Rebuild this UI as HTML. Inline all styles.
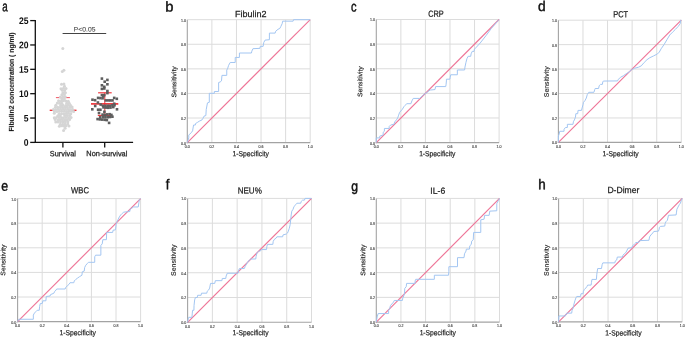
<!DOCTYPE html>
<html><head><meta charset="utf-8"><style>
html,body{margin:0;padding:0;background:#fff;}
svg{display:block;font-family:"Liberation Sans", sans-serif;}
</style></head><body>
<svg width="685" height="337" viewBox="0 0 685 337">
<rect width="685" height="337" fill="#fff"/>
<line x1="211.88" y1="19.70" x2="211.88" y2="142.60" stroke="#dcdcdc" stroke-width="1"/>
<line x1="187.30" y1="118.02" x2="310.20" y2="118.02" stroke="#dcdcdc" stroke-width="1"/>
<line x1="236.46" y1="19.70" x2="236.46" y2="142.60" stroke="#dcdcdc" stroke-width="1"/>
<line x1="187.30" y1="93.44" x2="310.20" y2="93.44" stroke="#dcdcdc" stroke-width="1"/>
<line x1="261.04" y1="19.70" x2="261.04" y2="142.60" stroke="#dcdcdc" stroke-width="1"/>
<line x1="187.30" y1="68.86" x2="310.20" y2="68.86" stroke="#dcdcdc" stroke-width="1"/>
<line x1="285.62" y1="19.70" x2="285.62" y2="142.60" stroke="#dcdcdc" stroke-width="1"/>
<line x1="187.30" y1="44.28" x2="310.20" y2="44.28" stroke="#dcdcdc" stroke-width="1"/>
<line x1="310.20" y1="19.70" x2="310.20" y2="142.60" stroke="#dcdcdc" stroke-width="1"/>
<line x1="187.30" y1="19.70" x2="310.20" y2="19.70" stroke="#dcdcdc" stroke-width="1"/>
<line x1="187.30" y1="19.70" x2="187.30" y2="143.20" stroke="#a3a3a3" stroke-width="1.1"/>
<line x1="186.70" y1="142.60" x2="310.20" y2="142.60" stroke="#a3a3a3" stroke-width="1.1"/>
<line x1="187.30" y1="142.60" x2="310.20" y2="19.70" stroke="#ee7597" stroke-width="1.15"/>
<polyline points="187.30,142.60 188.77,137.93 188.77,135.10 189.76,134.12 191.60,132.28 192.58,130.80 193.57,125.03 195.41,125.03 195.41,123.67 197.38,122.44 199.22,121.22 202.05,119.86 203.03,118.27 204.01,116.18 205.86,115.56 206.23,109.54 207.46,102.90 209.30,102.29 209.30,93.32 214.34,93.32 214.34,91.47 218.64,91.47 218.64,82.50 220.11,82.01 221.47,80.90 221.96,75.37 226.75,75.37 226.75,70.09 227.73,68.25 228.59,65.42 230.19,62.47 235.23,62.47 235.23,57.43 239.41,57.43 239.41,53.01 251.45,53.01 251.82,51.16 252.93,48.70 259.93,48.34 260.30,46.37 263.13,46.37 263.74,42.56 265.10,40.10 269.40,39.73 269.40,33.10 275.17,33.10 275.67,31.25 278.00,29.29 279.84,28.43 280.83,26.46 282.18,23.63 282.67,21.17 293.12,21.17 293.49,19.70 310.20,19.70" fill="none" stroke="#a3c6f2" stroke-width="1.0" stroke-linejoin="miter"/>
<line x1="400.86" y1="19.50" x2="400.86" y2="142.60" stroke="#dcdcdc" stroke-width="1"/>
<line x1="376.30" y1="117.98" x2="499.10" y2="117.98" stroke="#dcdcdc" stroke-width="1"/>
<line x1="425.42" y1="19.50" x2="425.42" y2="142.60" stroke="#dcdcdc" stroke-width="1"/>
<line x1="376.30" y1="93.36" x2="499.10" y2="93.36" stroke="#dcdcdc" stroke-width="1"/>
<line x1="449.98" y1="19.50" x2="449.98" y2="142.60" stroke="#dcdcdc" stroke-width="1"/>
<line x1="376.30" y1="68.74" x2="499.10" y2="68.74" stroke="#dcdcdc" stroke-width="1"/>
<line x1="474.54" y1="19.50" x2="474.54" y2="142.60" stroke="#dcdcdc" stroke-width="1"/>
<line x1="376.30" y1="44.12" x2="499.10" y2="44.12" stroke="#dcdcdc" stroke-width="1"/>
<line x1="499.10" y1="19.50" x2="499.10" y2="142.60" stroke="#dcdcdc" stroke-width="1"/>
<line x1="376.30" y1="19.50" x2="499.10" y2="19.50" stroke="#dcdcdc" stroke-width="1"/>
<line x1="376.30" y1="19.50" x2="376.30" y2="143.20" stroke="#a3a3a3" stroke-width="1.1"/>
<line x1="375.70" y1="142.60" x2="499.10" y2="142.60" stroke="#a3a3a3" stroke-width="1.1"/>
<line x1="376.30" y1="142.60" x2="499.10" y2="19.50" stroke="#ee7597" stroke-width="1.15"/>
<polyline points="376.30,142.60 376.30,137.92 379.74,137.92 379.74,136.08 383.18,135.09 383.18,132.26 384.40,131.27 384.40,128.44 389.19,128.44 389.19,126.47 390.67,125.00 393.98,124.26 394.84,121.80 396.44,119.83 397.67,117.98 398.65,115.15 399.63,112.32 400.86,110.96 402.46,109.12 403.93,106.65 405.28,105.30 406.63,103.70 410.93,103.70 411.91,100.87 413.26,98.41 419.53,98.41 421.00,97.05 422.35,95.82 424.19,94.22 427.14,92.38 428.98,90.77 430.45,90.04 435.00,89.54 435.61,86.59 445.68,86.59 446.05,84.74 446.42,80.93 446.42,79.20 449.86,79.20 450.23,77.23 450.72,74.77 457.35,74.77 457.35,69.97 464.59,69.97 464.96,67.14 465.94,62.46 466.93,58.65 468.15,56.31 470.73,56.31 471.10,53.84 472.21,51.38 474.05,51.38 474.42,49.17 476.38,47.20 480.19,43.01 485.84,35.87 491.49,28.24 497.26,21.59 499.10,19.50" fill="none" stroke="#a3c6f2" stroke-width="1.0" stroke-linejoin="miter"/>
<line x1="582.98" y1="20.20" x2="582.98" y2="142.40" stroke="#dcdcdc" stroke-width="1"/>
<line x1="558.40" y1="117.96" x2="681.30" y2="117.96" stroke="#dcdcdc" stroke-width="1"/>
<line x1="607.56" y1="20.20" x2="607.56" y2="142.40" stroke="#dcdcdc" stroke-width="1"/>
<line x1="558.40" y1="93.52" x2="681.30" y2="93.52" stroke="#dcdcdc" stroke-width="1"/>
<line x1="632.14" y1="20.20" x2="632.14" y2="142.40" stroke="#dcdcdc" stroke-width="1"/>
<line x1="558.40" y1="69.08" x2="681.30" y2="69.08" stroke="#dcdcdc" stroke-width="1"/>
<line x1="656.72" y1="20.20" x2="656.72" y2="142.40" stroke="#dcdcdc" stroke-width="1"/>
<line x1="558.40" y1="44.64" x2="681.30" y2="44.64" stroke="#dcdcdc" stroke-width="1"/>
<line x1="681.30" y1="20.20" x2="681.30" y2="142.40" stroke="#dcdcdc" stroke-width="1"/>
<line x1="558.40" y1="20.20" x2="681.30" y2="20.20" stroke="#dcdcdc" stroke-width="1"/>
<line x1="558.40" y1="20.20" x2="558.40" y2="143.00" stroke="#a3a3a3" stroke-width="1.1"/>
<line x1="557.80" y1="142.40" x2="681.30" y2="142.40" stroke="#a3a3a3" stroke-width="1.1"/>
<line x1="558.40" y1="142.40" x2="681.30" y2="20.20" stroke="#ee7597" stroke-width="1.15"/>
<polyline points="558.40,142.40 558.40,136.05 559.14,134.09 559.75,131.28 564.05,131.28 564.05,129.32 565.41,127.49 567.37,127.49 567.37,124.31 573.03,124.31 573.39,121.75 574.38,119.92 575.48,117.10 575.85,113.68 577.70,113.68 578.06,110.38 581.51,110.38 582.12,107.94 582.98,104.76 583.47,102.32 584.95,100.61 586.30,98.04 587.28,94.62 588.76,92.30 593.92,92.30 594.78,89.49 595.15,88.51 598.59,88.51 599.20,85.70 600.55,84.36 602.40,84.36 602.77,81.91 603.38,81.06 617.51,80.93 618.50,79.22 620.46,77.27 623.29,75.80 626.12,73.85 628.94,72.01 631.77,69.69 634.60,68.22 638.41,67.25 641.23,65.90 644.18,62.48 647.01,59.67 649.84,57.72 653.65,55.88 657.46,53.93 659.30,52.09 661.14,48.79 664.09,44.52 666.92,39.75 669.75,34.99 672.57,32.18 675.40,29.36 678.23,26.43 680.19,23.62 680.69,20.20 681.30,20.20" fill="none" stroke="#a3c6f2" stroke-width="1.0" stroke-linejoin="miter"/>
<line x1="42.20" y1="198.60" x2="42.20" y2="321.60" stroke="#dcdcdc" stroke-width="1"/>
<line x1="17.60" y1="297.00" x2="140.60" y2="297.00" stroke="#dcdcdc" stroke-width="1"/>
<line x1="66.80" y1="198.60" x2="66.80" y2="321.60" stroke="#dcdcdc" stroke-width="1"/>
<line x1="17.60" y1="272.40" x2="140.60" y2="272.40" stroke="#dcdcdc" stroke-width="1"/>
<line x1="91.40" y1="198.60" x2="91.40" y2="321.60" stroke="#dcdcdc" stroke-width="1"/>
<line x1="17.60" y1="247.80" x2="140.60" y2="247.80" stroke="#dcdcdc" stroke-width="1"/>
<line x1="116.00" y1="198.60" x2="116.00" y2="321.60" stroke="#dcdcdc" stroke-width="1"/>
<line x1="17.60" y1="223.20" x2="140.60" y2="223.20" stroke="#dcdcdc" stroke-width="1"/>
<line x1="140.60" y1="198.60" x2="140.60" y2="321.60" stroke="#dcdcdc" stroke-width="1"/>
<line x1="17.60" y1="198.60" x2="140.60" y2="198.60" stroke="#dcdcdc" stroke-width="1"/>
<line x1="17.60" y1="198.60" x2="17.60" y2="322.20" stroke="#a3a3a3" stroke-width="1.1"/>
<line x1="17.00" y1="321.60" x2="140.60" y2="321.60" stroke="#a3a3a3" stroke-width="1.1"/>
<line x1="17.60" y1="321.60" x2="140.60" y2="198.60" stroke="#ee7597" stroke-width="1.15"/>
<polyline points="17.60,321.60 18.71,319.26 33.34,319.26 33.34,315.08 34.45,313.11 35.80,311.64 37.16,310.28 39.25,310.28 39.62,306.47 40.23,303.64 42.45,303.27 42.81,300.81 45.89,300.81 46.26,296.51 50.07,296.02 50.44,294.66 53.88,293.19 54.75,291.34 56.10,289.99 56.71,289.00 65.20,289.00 65.57,287.53 67.17,286.05 69.01,284.33 70.00,282.73 73.81,282.73 74.30,280.89 75.66,279.53 77.62,278.06 79.47,276.71 81.93,275.23 82.30,271.79 84.27,271.05 84.64,267.60 85.74,265.27 87.09,263.79 88.45,262.31 94.72,262.31 94.72,259.98 94.72,256.78 95.58,255.18 100.87,255.18 100.87,245.34 102.22,243.86 102.84,239.68 106.41,239.68 106.65,232.43 112.68,232.43 113.05,230.21 115.51,229.84 116.12,224.43 116.49,222.58 117.97,219.76 119.32,216.93 120.67,214.96 122.15,213.48 123.75,212.13 129.78,211.51 130.15,209.30 131.62,208.32 133.59,206.96 138.26,206.96 138.88,202.66 139.25,199.83 140.60,198.60" fill="none" stroke="#a3c6f2" stroke-width="1.0" stroke-linejoin="miter"/>
<line x1="212.38" y1="198.40" x2="212.38" y2="322.30" stroke="#dcdcdc" stroke-width="1"/>
<line x1="187.60" y1="297.52" x2="311.50" y2="297.52" stroke="#dcdcdc" stroke-width="1"/>
<line x1="237.16" y1="198.40" x2="237.16" y2="322.30" stroke="#dcdcdc" stroke-width="1"/>
<line x1="187.60" y1="272.74" x2="311.50" y2="272.74" stroke="#dcdcdc" stroke-width="1"/>
<line x1="261.94" y1="198.40" x2="261.94" y2="322.30" stroke="#dcdcdc" stroke-width="1"/>
<line x1="187.60" y1="247.96" x2="311.50" y2="247.96" stroke="#dcdcdc" stroke-width="1"/>
<line x1="286.72" y1="198.40" x2="286.72" y2="322.30" stroke="#dcdcdc" stroke-width="1"/>
<line x1="187.60" y1="223.18" x2="311.50" y2="223.18" stroke="#dcdcdc" stroke-width="1"/>
<line x1="311.50" y1="198.40" x2="311.50" y2="322.30" stroke="#dcdcdc" stroke-width="1"/>
<line x1="187.60" y1="198.40" x2="311.50" y2="198.40" stroke="#dcdcdc" stroke-width="1"/>
<line x1="187.60" y1="198.40" x2="187.60" y2="322.90" stroke="#a3a3a3" stroke-width="1.1"/>
<line x1="187.00" y1="322.30" x2="311.50" y2="322.30" stroke="#a3a3a3" stroke-width="1.1"/>
<line x1="187.60" y1="322.30" x2="311.50" y2="198.40" stroke="#ee7597" stroke-width="1.15"/>
<polyline points="187.60,322.30 188.22,318.83 188.72,317.34 191.94,317.34 192.31,313.13 192.56,310.28 193.92,310.28 194.04,305.57 194.66,299.87 195.41,297.52 197.26,297.52 197.64,295.29 201.11,295.29 201.48,293.18 206.80,293.18 207.18,291.32 208.66,289.96 209.65,288.10 210.52,283.40 214.73,283.40 215.35,280.67 221.92,280.67 222.29,278.44 225.76,278.44 226.13,276.09 227.25,273.24 238.03,273.24 238.65,270.39 239.39,268.53 244.35,268.53 245.09,266.67 246.58,263.82 248.56,260.97 249.43,259.98 250.79,258.99 255.75,258.99 256.12,256.39 256.98,252.92 258.35,251.43 260.82,250.69 261.44,249.57 266.52,249.57 266.90,246.35 267.52,244.37 272.84,244.37 273.21,241.52 274.08,239.66 276.06,238.17 276.93,236.81 282.63,236.81 283.00,234.95 286.47,233.96 287.46,233.09 288.33,231.11 289.32,228.26 290.19,224.42 290.81,218.84 291.18,215.00 291.80,211.16 293.04,209.30 294.03,206.45 295.89,204.60 296.88,203.23 300.72,203.23 301.22,201.37 302.58,200.13 304.44,200.13 305.06,198.40 311.50,198.40" fill="none" stroke="#a3c6f2" stroke-width="1.0" stroke-linejoin="miter"/>
<line x1="400.94" y1="198.40" x2="400.94" y2="322.10" stroke="#dcdcdc" stroke-width="1"/>
<line x1="376.30" y1="297.36" x2="499.50" y2="297.36" stroke="#dcdcdc" stroke-width="1"/>
<line x1="425.58" y1="198.40" x2="425.58" y2="322.10" stroke="#dcdcdc" stroke-width="1"/>
<line x1="376.30" y1="272.62" x2="499.50" y2="272.62" stroke="#dcdcdc" stroke-width="1"/>
<line x1="450.22" y1="198.40" x2="450.22" y2="322.10" stroke="#dcdcdc" stroke-width="1"/>
<line x1="376.30" y1="247.88" x2="499.50" y2="247.88" stroke="#dcdcdc" stroke-width="1"/>
<line x1="474.86" y1="198.40" x2="474.86" y2="322.10" stroke="#dcdcdc" stroke-width="1"/>
<line x1="376.30" y1="223.14" x2="499.50" y2="223.14" stroke="#dcdcdc" stroke-width="1"/>
<line x1="499.50" y1="198.40" x2="499.50" y2="322.10" stroke="#dcdcdc" stroke-width="1"/>
<line x1="376.30" y1="198.40" x2="499.50" y2="198.40" stroke="#dcdcdc" stroke-width="1"/>
<line x1="376.30" y1="198.40" x2="376.30" y2="322.70" stroke="#a3a3a3" stroke-width="1.1"/>
<line x1="375.70" y1="322.10" x2="499.50" y2="322.10" stroke="#a3a3a3" stroke-width="1.1"/>
<line x1="376.30" y1="322.10" x2="499.50" y2="198.40" stroke="#ee7597" stroke-width="1.15"/>
<polyline points="376.30,322.10 377.16,316.90 378.15,313.56 388.62,313.56 388.62,310.22 389.73,308.37 390.47,305.52 393.55,302.06 394.29,300.45 402.42,300.45 402.79,297.98 403.77,296.00 404.51,293.15 404.76,288.45 406.24,286.60 406.61,283.38 415.11,283.38 415.11,280.91 415.72,279.30 434.33,279.30 434.33,275.22 448.50,275.22 448.86,271.38 448.86,266.68 457.49,266.68 457.49,260.00 457.49,257.65 464.02,257.65 464.51,253.82 465.99,251.10 466.36,249.12 469.44,249.12 469.81,245.78 471.29,244.42 471.66,241.20 473.26,239.72 473.63,232.42 480.77,232.42 480.77,219.80 484.10,219.18 484.59,215.35 489.15,215.35 489.77,211.14 496.79,210.77 496.79,203.60 498.27,200.75 499.50,198.40" fill="none" stroke="#a3c6f2" stroke-width="1.0" stroke-linejoin="miter"/>
<line x1="583.32" y1="198.40" x2="583.32" y2="321.90" stroke="#dcdcdc" stroke-width="1"/>
<line x1="558.60" y1="297.20" x2="682.20" y2="297.20" stroke="#dcdcdc" stroke-width="1"/>
<line x1="608.04" y1="198.40" x2="608.04" y2="321.90" stroke="#dcdcdc" stroke-width="1"/>
<line x1="558.60" y1="272.50" x2="682.20" y2="272.50" stroke="#dcdcdc" stroke-width="1"/>
<line x1="632.76" y1="198.40" x2="632.76" y2="321.90" stroke="#dcdcdc" stroke-width="1"/>
<line x1="558.60" y1="247.80" x2="682.20" y2="247.80" stroke="#dcdcdc" stroke-width="1"/>
<line x1="657.48" y1="198.40" x2="657.48" y2="321.90" stroke="#dcdcdc" stroke-width="1"/>
<line x1="558.60" y1="223.10" x2="682.20" y2="223.10" stroke="#dcdcdc" stroke-width="1"/>
<line x1="682.20" y1="198.40" x2="682.20" y2="321.90" stroke="#dcdcdc" stroke-width="1"/>
<line x1="558.60" y1="198.40" x2="682.20" y2="198.40" stroke="#dcdcdc" stroke-width="1"/>
<line x1="558.60" y1="198.40" x2="558.60" y2="322.50" stroke="#a3a3a3" stroke-width="1.1"/>
<line x1="558.00" y1="321.90" x2="682.20" y2="321.90" stroke="#a3a3a3" stroke-width="1.1"/>
<line x1="558.60" y1="321.90" x2="682.20" y2="198.40" stroke="#ee7597" stroke-width="1.15"/>
<polyline points="558.60,321.90 558.85,315.97 565.40,315.97 566.02,314.12 566.76,313.13 571.70,313.13 572.07,310.29 573.06,308.44 573.56,305.60 574.92,300.78 575.90,297.94 576.77,296.46 580.60,296.46 580.97,293.74 583.07,293.74 583.44,291.27 584.43,289.42 585.79,288.06 586.90,286.58 587.65,285.10 591.11,285.10 591.48,282.38 591.97,279.42 596.42,279.42 596.79,274.23 597.66,268.55 601.49,268.55 602.11,264.72 602.85,262.87 614.84,262.87 615.33,260.89 616.69,260.03 617.31,257.06 622.38,257.06 623.00,255.21 624.23,253.85 625.59,252.86 626.70,251.01 628.06,248.17 631.89,247.68 632.51,245.70 633.75,244.96 635.11,243.48 635.73,242.49 638.57,242.49 639.43,240.64 648.95,240.27 649.57,236.81 650.93,234.96 652.78,232.98 653.77,231.50 658.47,231.13 659.09,229.28 659.46,227.30 660.32,226.43 664.77,226.06 665.14,223.59 666.01,221.62 667.37,220.26 668.48,215.32 676.14,214.95 676.51,212.11 676.89,209.27 678.00,207.05 679.36,204.57 680.35,203.22 681.21,200.75 682.20,198.40" fill="none" stroke="#a3c6f2" stroke-width="1.0" stroke-linejoin="miter"/>
<line x1="35.3" y1="20.0" x2="35.3" y2="143.0" stroke="#111" stroke-width="1.3"/>
<line x1="34.699999999999996" y1="142.4" x2="133.1" y2="142.4" stroke="#111" stroke-width="1.3"/>
<line x1="30.2" y1="142.40" x2="35.3" y2="142.40" stroke="#111" stroke-width="1.3"/>
<line x1="30.2" y1="118.04" x2="35.3" y2="118.04" stroke="#111" stroke-width="1.3"/>
<line x1="30.2" y1="93.68" x2="35.3" y2="93.68" stroke="#111" stroke-width="1.3"/>
<line x1="30.2" y1="69.32" x2="35.3" y2="69.32" stroke="#111" stroke-width="1.3"/>
<line x1="30.2" y1="44.96" x2="35.3" y2="44.96" stroke="#111" stroke-width="1.3"/>
<line x1="30.2" y1="20.60" x2="35.3" y2="20.60" stroke="#111" stroke-width="1.3"/>
<line x1="62.9" y1="142.4" x2="62.9" y2="147.6" stroke="#111" stroke-width="1.3"/>
<line x1="104.7" y1="142.4" x2="104.7" y2="147.6" stroke="#111" stroke-width="1.3"/>
<line x1="62.6" y1="33.5" x2="106.2" y2="33.5" stroke="#444" stroke-width="1"/>
<line x1="49.7" y1="110.3" x2="54" y2="110.3" stroke="#f02a30" stroke-width="1.3"/>
<line x1="72.5" y1="110.3" x2="76.5" y2="110.3" stroke="#f02a30" stroke-width="1.3"/>
<line x1="55.9" y1="97.6" x2="61.5" y2="97.6" stroke="#f06470" stroke-width="1.1"/>
<line x1="64.5" y1="97.6" x2="69.9" y2="97.6" stroke="#f06470" stroke-width="1.1"/>
<circle cx="62.80" cy="48.50" r="1.5" fill="#d5d5d5"/>
<circle cx="62.30" cy="71.60" r="1.5" fill="#d5d5d5"/>
<circle cx="63.90" cy="70.30" r="1.5" fill="#d5d5d5"/>
<circle cx="61.52" cy="84.23" r="1.5" fill="#d5d5d5"/>
<circle cx="63.96" cy="84.08" r="1.5" fill="#d5d5d5"/>
<circle cx="64.48" cy="86.26" r="1.5" fill="#d5d5d5"/>
<circle cx="60.99" cy="88.64" r="1.5" fill="#d5d5d5"/>
<circle cx="63.47" cy="88.30" r="1.5" fill="#d5d5d5"/>
<circle cx="65.98" cy="88.49" r="1.5" fill="#d5d5d5"/>
<circle cx="62.29" cy="90.35" r="1.5" fill="#d5d5d5"/>
<circle cx="64.65" cy="90.46" r="1.5" fill="#d5d5d5"/>
<circle cx="62.89" cy="92.76" r="1.5" fill="#d5d5d5"/>
<circle cx="65.41" cy="92.86" r="1.5" fill="#d5d5d5"/>
<circle cx="61.85" cy="94.71" r="1.5" fill="#d5d5d5"/>
<circle cx="64.29" cy="94.54" r="1.5" fill="#d5d5d5"/>
<circle cx="60.36" cy="97.06" r="1.5" fill="#d5d5d5"/>
<circle cx="62.96" cy="96.73" r="1.5" fill="#d5d5d5"/>
<circle cx="65.24" cy="96.75" r="1.5" fill="#d5d5d5"/>
<circle cx="61.74" cy="99.12" r="1.5" fill="#d5d5d5"/>
<circle cx="64.31" cy="99.09" r="1.5" fill="#d5d5d5"/>
<circle cx="58.59" cy="100.84" r="1.5" fill="#d5d5d5"/>
<circle cx="61.13" cy="101.21" r="1.5" fill="#d5d5d5"/>
<circle cx="63.41" cy="100.86" r="1.5" fill="#d5d5d5"/>
<circle cx="65.74" cy="100.90" r="1.5" fill="#d5d5d5"/>
<circle cx="68.28" cy="101.25" r="1.5" fill="#d5d5d5"/>
<circle cx="57.35" cy="103.05" r="1.5" fill="#d5d5d5"/>
<circle cx="59.50" cy="103.23" r="1.5" fill="#d5d5d5"/>
<circle cx="61.77" cy="103.15" r="1.5" fill="#d5d5d5"/>
<circle cx="66.72" cy="103.28" r="1.5" fill="#d5d5d5"/>
<circle cx="69.20" cy="103.34" r="1.5" fill="#d5d5d5"/>
<circle cx="55.79" cy="105.23" r="1.5" fill="#d5d5d5"/>
<circle cx="60.75" cy="105.24" r="1.5" fill="#d5d5d5"/>
<circle cx="62.97" cy="105.36" r="1.5" fill="#d5d5d5"/>
<circle cx="65.83" cy="105.38" r="1.5" fill="#d5d5d5"/>
<circle cx="67.98" cy="105.19" r="1.5" fill="#d5d5d5"/>
<circle cx="70.45" cy="105.21" r="1.5" fill="#d5d5d5"/>
<circle cx="55.42" cy="107.27" r="1.5" fill="#d5d5d5"/>
<circle cx="57.71" cy="107.14" r="1.5" fill="#d5d5d5"/>
<circle cx="60.24" cy="107.28" r="1.5" fill="#d5d5d5"/>
<circle cx="62.16" cy="107.23" r="1.5" fill="#d5d5d5"/>
<circle cx="64.56" cy="107.33" r="1.5" fill="#d5d5d5"/>
<circle cx="66.98" cy="107.33" r="1.5" fill="#d5d5d5"/>
<circle cx="69.69" cy="107.19" r="1.5" fill="#d5d5d5"/>
<circle cx="72.12" cy="107.03" r="1.5" fill="#d5d5d5"/>
<circle cx="53.39" cy="109.59" r="1.5" fill="#d5d5d5"/>
<circle cx="55.68" cy="109.40" r="1.5" fill="#d5d5d5"/>
<circle cx="58.03" cy="109.26" r="1.5" fill="#d5d5d5"/>
<circle cx="60.55" cy="109.26" r="1.5" fill="#d5d5d5"/>
<circle cx="63.04" cy="109.12" r="1.5" fill="#d5d5d5"/>
<circle cx="65.42" cy="109.26" r="1.5" fill="#d5d5d5"/>
<circle cx="67.85" cy="109.23" r="1.5" fill="#d5d5d5"/>
<circle cx="70.07" cy="109.46" r="1.5" fill="#d5d5d5"/>
<circle cx="72.41" cy="109.27" r="1.5" fill="#d5d5d5"/>
<circle cx="54.47" cy="111.62" r="1.5" fill="#d5d5d5"/>
<circle cx="56.82" cy="111.52" r="1.5" fill="#d5d5d5"/>
<circle cx="59.28" cy="111.31" r="1.5" fill="#d5d5d5"/>
<circle cx="61.71" cy="111.29" r="1.5" fill="#d5d5d5"/>
<circle cx="64.27" cy="111.29" r="1.5" fill="#d5d5d5"/>
<circle cx="66.65" cy="111.51" r="1.5" fill="#d5d5d5"/>
<circle cx="68.82" cy="111.26" r="1.5" fill="#d5d5d5"/>
<circle cx="71.45" cy="111.33" r="1.5" fill="#d5d5d5"/>
<circle cx="73.66" cy="111.40" r="1.5" fill="#d5d5d5"/>
<circle cx="54.31" cy="113.36" r="1.5" fill="#d5d5d5"/>
<circle cx="59.09" cy="113.78" r="1.5" fill="#d5d5d5"/>
<circle cx="61.53" cy="113.75" r="1.5" fill="#d5d5d5"/>
<circle cx="63.82" cy="113.70" r="1.5" fill="#d5d5d5"/>
<circle cx="66.11" cy="113.43" r="1.5" fill="#d5d5d5"/>
<circle cx="68.36" cy="113.32" r="1.5" fill="#d5d5d5"/>
<circle cx="70.79" cy="113.69" r="1.5" fill="#d5d5d5"/>
<circle cx="57.80" cy="115.83" r="1.5" fill="#d5d5d5"/>
<circle cx="60.30" cy="115.66" r="1.5" fill="#d5d5d5"/>
<circle cx="64.74" cy="115.52" r="1.5" fill="#d5d5d5"/>
<circle cx="67.31" cy="115.58" r="1.5" fill="#d5d5d5"/>
<circle cx="69.76" cy="115.54" r="1.5" fill="#d5d5d5"/>
<circle cx="54.28" cy="117.70" r="1.5" fill="#d5d5d5"/>
<circle cx="56.43" cy="117.56" r="1.5" fill="#d5d5d5"/>
<circle cx="59.06" cy="117.54" r="1.5" fill="#d5d5d5"/>
<circle cx="61.51" cy="117.86" r="1.5" fill="#d5d5d5"/>
<circle cx="63.45" cy="117.77" r="1.5" fill="#d5d5d5"/>
<circle cx="65.87" cy="117.59" r="1.5" fill="#d5d5d5"/>
<circle cx="68.51" cy="117.67" r="1.5" fill="#d5d5d5"/>
<circle cx="71.04" cy="117.46" r="1.5" fill="#d5d5d5"/>
<circle cx="55.11" cy="119.61" r="1.5" fill="#d5d5d5"/>
<circle cx="57.94" cy="119.97" r="1.5" fill="#d5d5d5"/>
<circle cx="60.10" cy="119.70" r="1.5" fill="#d5d5d5"/>
<circle cx="62.43" cy="119.87" r="1.5" fill="#d5d5d5"/>
<circle cx="64.83" cy="119.64" r="1.5" fill="#d5d5d5"/>
<circle cx="67.11" cy="119.82" r="1.5" fill="#d5d5d5"/>
<circle cx="69.64" cy="119.59" r="1.5" fill="#d5d5d5"/>
<circle cx="55.74" cy="121.94" r="1.5" fill="#d5d5d5"/>
<circle cx="58.14" cy="122.03" r="1.5" fill="#d5d5d5"/>
<circle cx="60.57" cy="121.82" r="1.5" fill="#d5d5d5"/>
<circle cx="63.10" cy="121.84" r="1.5" fill="#d5d5d5"/>
<circle cx="65.38" cy="121.76" r="1.5" fill="#d5d5d5"/>
<circle cx="67.90" cy="121.67" r="1.5" fill="#d5d5d5"/>
<circle cx="60.36" cy="124.16" r="1.5" fill="#d5d5d5"/>
<circle cx="62.74" cy="124.17" r="1.5" fill="#d5d5d5"/>
<circle cx="65.08" cy="123.95" r="1.5" fill="#d5d5d5"/>
<circle cx="67.76" cy="124.05" r="1.5" fill="#d5d5d5"/>
<circle cx="59.35" cy="126.14" r="1.5" fill="#d5d5d5"/>
<circle cx="61.63" cy="125.86" r="1.5" fill="#d5d5d5"/>
<circle cx="63.75" cy="125.88" r="1.5" fill="#d5d5d5"/>
<circle cx="66.17" cy="125.86" r="1.5" fill="#d5d5d5"/>
<circle cx="68.99" cy="125.90" r="1.5" fill="#d5d5d5"/>
<circle cx="65.11" cy="128.32" r="1.5" fill="#d5d5d5"/>
<circle cx="63.57" cy="130.46" r="1.5" fill="#d5d5d5"/>
<line x1="91" y1="103.9" x2="118.3" y2="103.9" stroke="#f02a30" stroke-width="1.6"/>
<line x1="98.1" y1="92.8" x2="111.7" y2="92.8" stroke="#f02a30" stroke-width="1.1"/>
<line x1="97.8" y1="115.4" x2="111.7" y2="115.4" stroke="#f02a30" stroke-width="1.1"/>
<line x1="104.8" y1="92.8" x2="104.8" y2="115.4" stroke="#f02a30" stroke-width="1"/>
<rect x="100.60" y="77.30" width="2.6" height="2.6" fill="#5e5e5e"/>
<rect x="103.40" y="80.40" width="2.6" height="2.6" fill="#5e5e5e"/>
<rect x="106.10" y="78.60" width="2.6" height="2.6" fill="#5e5e5e"/>
<rect x="106.10" y="83.00" width="2.6" height="2.6" fill="#5e5e5e"/>
<rect x="100.60" y="84.00" width="2.6" height="2.6" fill="#5e5e5e"/>
<rect x="103.00" y="85.50" width="2.6" height="2.6" fill="#5e5e5e"/>
<rect x="100.60" y="87.60" width="2.6" height="2.6" fill="#5e5e5e"/>
<rect x="103.00" y="87.20" width="2.6" height="2.6" fill="#5e5e5e"/>
<rect x="106.10" y="89.70" width="2.6" height="2.6" fill="#5e5e5e"/>
<rect x="106.10" y="91.80" width="2.6" height="2.6" fill="#5e5e5e"/>
<rect x="100.60" y="93.80" width="2.6" height="2.6" fill="#5e5e5e"/>
<rect x="103.00" y="93.80" width="2.6" height="2.6" fill="#5e5e5e"/>
<rect x="102.00" y="94.90" width="2.6" height="2.6" fill="#5e5e5e"/>
<rect x="96.80" y="96.60" width="2.6" height="2.6" fill="#5e5e5e"/>
<rect x="99.10" y="96.80" width="2.6" height="2.6" fill="#5e5e5e"/>
<rect x="101.30" y="97.00" width="2.6" height="2.6" fill="#5e5e5e"/>
<rect x="91.20" y="98.40" width="2.6" height="2.6" fill="#5e5e5e"/>
<rect x="93.80" y="98.90" width="2.6" height="2.6" fill="#5e5e5e"/>
<rect x="104.50" y="99.10" width="2.6" height="2.6" fill="#5e5e5e"/>
<rect x="106.90" y="99.10" width="2.6" height="2.6" fill="#5e5e5e"/>
<rect x="109.00" y="99.10" width="2.6" height="2.6" fill="#5e5e5e"/>
<rect x="111.20" y="99.10" width="2.6" height="2.6" fill="#5e5e5e"/>
<rect x="112.90" y="96.60" width="2.6" height="2.6" fill="#5e5e5e"/>
<rect x="115.50" y="97.50" width="2.6" height="2.6" fill="#5e5e5e"/>
<rect x="96.60" y="101.20" width="2.6" height="2.6" fill="#5e5e5e"/>
<rect x="99.40" y="103.30" width="2.6" height="2.6" fill="#5e5e5e"/>
<rect x="101.70" y="104.50" width="2.6" height="2.6" fill="#5e5e5e"/>
<rect x="104.10" y="104.50" width="2.6" height="2.6" fill="#5e5e5e"/>
<rect x="106.40" y="104.50" width="2.6" height="2.6" fill="#5e5e5e"/>
<rect x="108.70" y="104.50" width="2.6" height="2.6" fill="#5e5e5e"/>
<rect x="111.10" y="104.00" width="2.6" height="2.6" fill="#5e5e5e"/>
<rect x="113.20" y="104.00" width="2.6" height="2.6" fill="#5e5e5e"/>
<rect x="112.90" y="102.40" width="2.6" height="2.6" fill="#5e5e5e"/>
<rect x="93.90" y="104.70" width="2.6" height="2.6" fill="#5e5e5e"/>
<rect x="102.20" y="106.10" width="2.6" height="2.6" fill="#5e5e5e"/>
<rect x="104.50" y="106.30" width="2.6" height="2.6" fill="#5e5e5e"/>
<rect x="106.90" y="106.50" width="2.6" height="2.6" fill="#5e5e5e"/>
<rect x="109.20" y="106.30" width="2.6" height="2.6" fill="#5e5e5e"/>
<rect x="112.00" y="105.80" width="2.6" height="2.6" fill="#5e5e5e"/>
<rect x="91.00" y="108.00" width="2.6" height="2.6" fill="#5e5e5e"/>
<rect x="96.80" y="108.40" width="2.6" height="2.6" fill="#5e5e5e"/>
<rect x="99.10" y="108.40" width="2.6" height="2.6" fill="#5e5e5e"/>
<rect x="115.70" y="108.00" width="2.6" height="2.6" fill="#5e5e5e"/>
<rect x="103.10" y="110.50" width="2.6" height="2.6" fill="#5e5e5e"/>
<rect x="97.70" y="111.70" width="2.6" height="2.6" fill="#5e5e5e"/>
<rect x="101.30" y="113.30" width="2.6" height="2.6" fill="#5e5e5e"/>
<rect x="103.60" y="113.60" width="2.6" height="2.6" fill="#5e5e5e"/>
<rect x="105.90" y="113.10" width="2.6" height="2.6" fill="#5e5e5e"/>
<rect x="108.30" y="112.90" width="2.6" height="2.6" fill="#5e5e5e"/>
<rect x="110.10" y="113.60" width="2.6" height="2.6" fill="#5e5e5e"/>
<rect x="111.10" y="115.40" width="2.6" height="2.6" fill="#5e5e5e"/>
<rect x="98.90" y="116.00" width="2.6" height="2.6" fill="#5e5e5e"/>
<rect x="101.70" y="115.90" width="2.6" height="2.6" fill="#5e5e5e"/>
<rect x="104.10" y="115.90" width="2.6" height="2.6" fill="#5e5e5e"/>
<rect x="106.40" y="115.90" width="2.6" height="2.6" fill="#5e5e5e"/>
<rect x="108.70" y="115.70" width="2.6" height="2.6" fill="#5e5e5e"/>
<rect x="96.30" y="117.80" width="2.6" height="2.6" fill="#5e5e5e"/>
<rect x="98.70" y="118.10" width="2.6" height="2.6" fill="#5e5e5e"/>
<rect x="101.00" y="118.30" width="2.6" height="2.6" fill="#5e5e5e"/>
<rect x="103.40" y="118.50" width="2.6" height="2.6" fill="#5e5e5e"/>
<rect x="105.50" y="118.80" width="2.6" height="2.6" fill="#5e5e5e"/>
<rect x="107.80" y="121.60" width="2.6" height="2.6" fill="#5e5e5e"/>
<g style="filter:grayscale(1)">
<text x="186.00" y="144.50" font-size="4.2" text-anchor="end" fill="#3a3a3a" stroke="#3a3a3a" stroke-width="0.12" textLength="5.0" lengthAdjust="spacingAndGlyphs">0.0</text>
<text x="187.30" y="147.90" font-size="4.2" text-anchor="middle" fill="#3a3a3a" stroke="#3a3a3a" stroke-width="0.12" textLength="5.0" lengthAdjust="spacingAndGlyphs">0.0</text>
<text x="186.00" y="119.92" font-size="4.2" text-anchor="end" fill="#3a3a3a" stroke="#3a3a3a" stroke-width="0.12" textLength="5.0" lengthAdjust="spacingAndGlyphs">0.2</text>
<text x="211.88" y="147.90" font-size="4.2" text-anchor="middle" fill="#3a3a3a" stroke="#3a3a3a" stroke-width="0.12" textLength="5.0" lengthAdjust="spacingAndGlyphs">0.2</text>
<text x="186.00" y="95.34" font-size="4.2" text-anchor="end" fill="#3a3a3a" stroke="#3a3a3a" stroke-width="0.12" textLength="5.0" lengthAdjust="spacingAndGlyphs">0.4</text>
<text x="236.46" y="147.90" font-size="4.2" text-anchor="middle" fill="#3a3a3a" stroke="#3a3a3a" stroke-width="0.12" textLength="5.0" lengthAdjust="spacingAndGlyphs">0.4</text>
<text x="186.00" y="70.76" font-size="4.2" text-anchor="end" fill="#3a3a3a" stroke="#3a3a3a" stroke-width="0.12" textLength="5.0" lengthAdjust="spacingAndGlyphs">0.6</text>
<text x="261.04" y="147.90" font-size="4.2" text-anchor="middle" fill="#3a3a3a" stroke="#3a3a3a" stroke-width="0.12" textLength="5.0" lengthAdjust="spacingAndGlyphs">0.6</text>
<text x="186.00" y="46.18" font-size="4.2" text-anchor="end" fill="#3a3a3a" stroke="#3a3a3a" stroke-width="0.12" textLength="5.0" lengthAdjust="spacingAndGlyphs">0.8</text>
<text x="285.62" y="147.90" font-size="4.2" text-anchor="middle" fill="#3a3a3a" stroke="#3a3a3a" stroke-width="0.12" textLength="5.0" lengthAdjust="spacingAndGlyphs">0.8</text>
<text x="186.00" y="21.60" font-size="4.2" text-anchor="end" fill="#3a3a3a" stroke="#3a3a3a" stroke-width="0.12" textLength="5.0" lengthAdjust="spacingAndGlyphs">1.0</text>
<text x="310.20" y="147.90" font-size="4.2" text-anchor="middle" fill="#3a3a3a" stroke="#3a3a3a" stroke-width="0.12" textLength="5.0" lengthAdjust="spacingAndGlyphs">1.0</text>
<text x="375.00" y="144.50" font-size="4.2" text-anchor="end" fill="#3a3a3a" stroke="#3a3a3a" stroke-width="0.12" textLength="5.0" lengthAdjust="spacingAndGlyphs">0.0</text>
<text x="376.30" y="147.90" font-size="4.2" text-anchor="middle" fill="#3a3a3a" stroke="#3a3a3a" stroke-width="0.12" textLength="5.0" lengthAdjust="spacingAndGlyphs">0.0</text>
<text x="375.00" y="119.88" font-size="4.2" text-anchor="end" fill="#3a3a3a" stroke="#3a3a3a" stroke-width="0.12" textLength="5.0" lengthAdjust="spacingAndGlyphs">0.2</text>
<text x="400.86" y="147.90" font-size="4.2" text-anchor="middle" fill="#3a3a3a" stroke="#3a3a3a" stroke-width="0.12" textLength="5.0" lengthAdjust="spacingAndGlyphs">0.2</text>
<text x="375.00" y="95.26" font-size="4.2" text-anchor="end" fill="#3a3a3a" stroke="#3a3a3a" stroke-width="0.12" textLength="5.0" lengthAdjust="spacingAndGlyphs">0.4</text>
<text x="425.42" y="147.90" font-size="4.2" text-anchor="middle" fill="#3a3a3a" stroke="#3a3a3a" stroke-width="0.12" textLength="5.0" lengthAdjust="spacingAndGlyphs">0.4</text>
<text x="375.00" y="70.64" font-size="4.2" text-anchor="end" fill="#3a3a3a" stroke="#3a3a3a" stroke-width="0.12" textLength="5.0" lengthAdjust="spacingAndGlyphs">0.6</text>
<text x="449.98" y="147.90" font-size="4.2" text-anchor="middle" fill="#3a3a3a" stroke="#3a3a3a" stroke-width="0.12" textLength="5.0" lengthAdjust="spacingAndGlyphs">0.6</text>
<text x="375.00" y="46.02" font-size="4.2" text-anchor="end" fill="#3a3a3a" stroke="#3a3a3a" stroke-width="0.12" textLength="5.0" lengthAdjust="spacingAndGlyphs">0.8</text>
<text x="474.54" y="147.90" font-size="4.2" text-anchor="middle" fill="#3a3a3a" stroke="#3a3a3a" stroke-width="0.12" textLength="5.0" lengthAdjust="spacingAndGlyphs">0.8</text>
<text x="375.00" y="21.40" font-size="4.2" text-anchor="end" fill="#3a3a3a" stroke="#3a3a3a" stroke-width="0.12" textLength="5.0" lengthAdjust="spacingAndGlyphs">1.0</text>
<text x="499.10" y="147.90" font-size="4.2" text-anchor="middle" fill="#3a3a3a" stroke="#3a3a3a" stroke-width="0.12" textLength="5.0" lengthAdjust="spacingAndGlyphs">1.0</text>
<text x="557.10" y="144.30" font-size="4.2" text-anchor="end" fill="#3a3a3a" stroke="#3a3a3a" stroke-width="0.12" textLength="5.0" lengthAdjust="spacingAndGlyphs">0.0</text>
<text x="558.40" y="147.70" font-size="4.2" text-anchor="middle" fill="#3a3a3a" stroke="#3a3a3a" stroke-width="0.12" textLength="5.0" lengthAdjust="spacingAndGlyphs">0.0</text>
<text x="557.10" y="119.86" font-size="4.2" text-anchor="end" fill="#3a3a3a" stroke="#3a3a3a" stroke-width="0.12" textLength="5.0" lengthAdjust="spacingAndGlyphs">0.2</text>
<text x="582.98" y="147.70" font-size="4.2" text-anchor="middle" fill="#3a3a3a" stroke="#3a3a3a" stroke-width="0.12" textLength="5.0" lengthAdjust="spacingAndGlyphs">0.2</text>
<text x="557.10" y="95.42" font-size="4.2" text-anchor="end" fill="#3a3a3a" stroke="#3a3a3a" stroke-width="0.12" textLength="5.0" lengthAdjust="spacingAndGlyphs">0.4</text>
<text x="607.56" y="147.70" font-size="4.2" text-anchor="middle" fill="#3a3a3a" stroke="#3a3a3a" stroke-width="0.12" textLength="5.0" lengthAdjust="spacingAndGlyphs">0.4</text>
<text x="557.10" y="70.98" font-size="4.2" text-anchor="end" fill="#3a3a3a" stroke="#3a3a3a" stroke-width="0.12" textLength="5.0" lengthAdjust="spacingAndGlyphs">0.6</text>
<text x="632.14" y="147.70" font-size="4.2" text-anchor="middle" fill="#3a3a3a" stroke="#3a3a3a" stroke-width="0.12" textLength="5.0" lengthAdjust="spacingAndGlyphs">0.6</text>
<text x="557.10" y="46.54" font-size="4.2" text-anchor="end" fill="#3a3a3a" stroke="#3a3a3a" stroke-width="0.12" textLength="5.0" lengthAdjust="spacingAndGlyphs">0.8</text>
<text x="656.72" y="147.70" font-size="4.2" text-anchor="middle" fill="#3a3a3a" stroke="#3a3a3a" stroke-width="0.12" textLength="5.0" lengthAdjust="spacingAndGlyphs">0.8</text>
<text x="557.10" y="22.10" font-size="4.2" text-anchor="end" fill="#3a3a3a" stroke="#3a3a3a" stroke-width="0.12" textLength="5.0" lengthAdjust="spacingAndGlyphs">1.0</text>
<text x="681.30" y="147.70" font-size="4.2" text-anchor="middle" fill="#3a3a3a" stroke="#3a3a3a" stroke-width="0.12" textLength="5.0" lengthAdjust="spacingAndGlyphs">1.0</text>
<text x="16.30" y="323.50" font-size="4.2" text-anchor="end" fill="#3a3a3a" stroke="#3a3a3a" stroke-width="0.12" textLength="5.0" lengthAdjust="spacingAndGlyphs">0.0</text>
<text x="17.60" y="326.90" font-size="4.2" text-anchor="middle" fill="#3a3a3a" stroke="#3a3a3a" stroke-width="0.12" textLength="5.0" lengthAdjust="spacingAndGlyphs">0.0</text>
<text x="16.30" y="298.90" font-size="4.2" text-anchor="end" fill="#3a3a3a" stroke="#3a3a3a" stroke-width="0.12" textLength="5.0" lengthAdjust="spacingAndGlyphs">0.2</text>
<text x="42.20" y="326.90" font-size="4.2" text-anchor="middle" fill="#3a3a3a" stroke="#3a3a3a" stroke-width="0.12" textLength="5.0" lengthAdjust="spacingAndGlyphs">0.2</text>
<text x="16.30" y="274.30" font-size="4.2" text-anchor="end" fill="#3a3a3a" stroke="#3a3a3a" stroke-width="0.12" textLength="5.0" lengthAdjust="spacingAndGlyphs">0.4</text>
<text x="66.80" y="326.90" font-size="4.2" text-anchor="middle" fill="#3a3a3a" stroke="#3a3a3a" stroke-width="0.12" textLength="5.0" lengthAdjust="spacingAndGlyphs">0.4</text>
<text x="16.30" y="249.70" font-size="4.2" text-anchor="end" fill="#3a3a3a" stroke="#3a3a3a" stroke-width="0.12" textLength="5.0" lengthAdjust="spacingAndGlyphs">0.6</text>
<text x="91.40" y="326.90" font-size="4.2" text-anchor="middle" fill="#3a3a3a" stroke="#3a3a3a" stroke-width="0.12" textLength="5.0" lengthAdjust="spacingAndGlyphs">0.6</text>
<text x="16.30" y="225.10" font-size="4.2" text-anchor="end" fill="#3a3a3a" stroke="#3a3a3a" stroke-width="0.12" textLength="5.0" lengthAdjust="spacingAndGlyphs">0.8</text>
<text x="116.00" y="326.90" font-size="4.2" text-anchor="middle" fill="#3a3a3a" stroke="#3a3a3a" stroke-width="0.12" textLength="5.0" lengthAdjust="spacingAndGlyphs">0.8</text>
<text x="16.30" y="200.50" font-size="4.2" text-anchor="end" fill="#3a3a3a" stroke="#3a3a3a" stroke-width="0.12" textLength="5.0" lengthAdjust="spacingAndGlyphs">1.0</text>
<text x="140.60" y="326.90" font-size="4.2" text-anchor="middle" fill="#3a3a3a" stroke="#3a3a3a" stroke-width="0.12" textLength="5.0" lengthAdjust="spacingAndGlyphs">1.0</text>
<text x="186.30" y="324.20" font-size="4.2" text-anchor="end" fill="#3a3a3a" stroke="#3a3a3a" stroke-width="0.12" textLength="5.0" lengthAdjust="spacingAndGlyphs">0.0</text>
<text x="187.60" y="327.60" font-size="4.2" text-anchor="middle" fill="#3a3a3a" stroke="#3a3a3a" stroke-width="0.12" textLength="5.0" lengthAdjust="spacingAndGlyphs">0.0</text>
<text x="186.30" y="299.42" font-size="4.2" text-anchor="end" fill="#3a3a3a" stroke="#3a3a3a" stroke-width="0.12" textLength="5.0" lengthAdjust="spacingAndGlyphs">0.2</text>
<text x="212.38" y="327.60" font-size="4.2" text-anchor="middle" fill="#3a3a3a" stroke="#3a3a3a" stroke-width="0.12" textLength="5.0" lengthAdjust="spacingAndGlyphs">0.2</text>
<text x="186.30" y="274.64" font-size="4.2" text-anchor="end" fill="#3a3a3a" stroke="#3a3a3a" stroke-width="0.12" textLength="5.0" lengthAdjust="spacingAndGlyphs">0.4</text>
<text x="237.16" y="327.60" font-size="4.2" text-anchor="middle" fill="#3a3a3a" stroke="#3a3a3a" stroke-width="0.12" textLength="5.0" lengthAdjust="spacingAndGlyphs">0.4</text>
<text x="186.30" y="249.86" font-size="4.2" text-anchor="end" fill="#3a3a3a" stroke="#3a3a3a" stroke-width="0.12" textLength="5.0" lengthAdjust="spacingAndGlyphs">0.6</text>
<text x="261.94" y="327.60" font-size="4.2" text-anchor="middle" fill="#3a3a3a" stroke="#3a3a3a" stroke-width="0.12" textLength="5.0" lengthAdjust="spacingAndGlyphs">0.6</text>
<text x="186.30" y="225.08" font-size="4.2" text-anchor="end" fill="#3a3a3a" stroke="#3a3a3a" stroke-width="0.12" textLength="5.0" lengthAdjust="spacingAndGlyphs">0.8</text>
<text x="286.72" y="327.60" font-size="4.2" text-anchor="middle" fill="#3a3a3a" stroke="#3a3a3a" stroke-width="0.12" textLength="5.0" lengthAdjust="spacingAndGlyphs">0.8</text>
<text x="186.30" y="200.30" font-size="4.2" text-anchor="end" fill="#3a3a3a" stroke="#3a3a3a" stroke-width="0.12" textLength="5.0" lengthAdjust="spacingAndGlyphs">1.0</text>
<text x="311.50" y="327.60" font-size="4.2" text-anchor="middle" fill="#3a3a3a" stroke="#3a3a3a" stroke-width="0.12" textLength="5.0" lengthAdjust="spacingAndGlyphs">1.0</text>
<text x="375.00" y="324.00" font-size="4.2" text-anchor="end" fill="#3a3a3a" stroke="#3a3a3a" stroke-width="0.12" textLength="5.0" lengthAdjust="spacingAndGlyphs">0.0</text>
<text x="376.30" y="327.40" font-size="4.2" text-anchor="middle" fill="#3a3a3a" stroke="#3a3a3a" stroke-width="0.12" textLength="5.0" lengthAdjust="spacingAndGlyphs">0.0</text>
<text x="375.00" y="299.26" font-size="4.2" text-anchor="end" fill="#3a3a3a" stroke="#3a3a3a" stroke-width="0.12" textLength="5.0" lengthAdjust="spacingAndGlyphs">0.2</text>
<text x="400.94" y="327.40" font-size="4.2" text-anchor="middle" fill="#3a3a3a" stroke="#3a3a3a" stroke-width="0.12" textLength="5.0" lengthAdjust="spacingAndGlyphs">0.2</text>
<text x="375.00" y="274.52" font-size="4.2" text-anchor="end" fill="#3a3a3a" stroke="#3a3a3a" stroke-width="0.12" textLength="5.0" lengthAdjust="spacingAndGlyphs">0.4</text>
<text x="425.58" y="327.40" font-size="4.2" text-anchor="middle" fill="#3a3a3a" stroke="#3a3a3a" stroke-width="0.12" textLength="5.0" lengthAdjust="spacingAndGlyphs">0.4</text>
<text x="375.00" y="249.78" font-size="4.2" text-anchor="end" fill="#3a3a3a" stroke="#3a3a3a" stroke-width="0.12" textLength="5.0" lengthAdjust="spacingAndGlyphs">0.6</text>
<text x="450.22" y="327.40" font-size="4.2" text-anchor="middle" fill="#3a3a3a" stroke="#3a3a3a" stroke-width="0.12" textLength="5.0" lengthAdjust="spacingAndGlyphs">0.6</text>
<text x="375.00" y="225.04" font-size="4.2" text-anchor="end" fill="#3a3a3a" stroke="#3a3a3a" stroke-width="0.12" textLength="5.0" lengthAdjust="spacingAndGlyphs">0.8</text>
<text x="474.86" y="327.40" font-size="4.2" text-anchor="middle" fill="#3a3a3a" stroke="#3a3a3a" stroke-width="0.12" textLength="5.0" lengthAdjust="spacingAndGlyphs">0.8</text>
<text x="375.00" y="200.30" font-size="4.2" text-anchor="end" fill="#3a3a3a" stroke="#3a3a3a" stroke-width="0.12" textLength="5.0" lengthAdjust="spacingAndGlyphs">1.0</text>
<text x="499.50" y="327.40" font-size="4.2" text-anchor="middle" fill="#3a3a3a" stroke="#3a3a3a" stroke-width="0.12" textLength="5.0" lengthAdjust="spacingAndGlyphs">1.0</text>
<text x="557.30" y="323.80" font-size="4.2" text-anchor="end" fill="#3a3a3a" stroke="#3a3a3a" stroke-width="0.12" textLength="5.0" lengthAdjust="spacingAndGlyphs">0.0</text>
<text x="558.60" y="327.20" font-size="4.2" text-anchor="middle" fill="#3a3a3a" stroke="#3a3a3a" stroke-width="0.12" textLength="5.0" lengthAdjust="spacingAndGlyphs">0.0</text>
<text x="557.30" y="299.10" font-size="4.2" text-anchor="end" fill="#3a3a3a" stroke="#3a3a3a" stroke-width="0.12" textLength="5.0" lengthAdjust="spacingAndGlyphs">0.2</text>
<text x="583.32" y="327.20" font-size="4.2" text-anchor="middle" fill="#3a3a3a" stroke="#3a3a3a" stroke-width="0.12" textLength="5.0" lengthAdjust="spacingAndGlyphs">0.2</text>
<text x="557.30" y="274.40" font-size="4.2" text-anchor="end" fill="#3a3a3a" stroke="#3a3a3a" stroke-width="0.12" textLength="5.0" lengthAdjust="spacingAndGlyphs">0.4</text>
<text x="608.04" y="327.20" font-size="4.2" text-anchor="middle" fill="#3a3a3a" stroke="#3a3a3a" stroke-width="0.12" textLength="5.0" lengthAdjust="spacingAndGlyphs">0.4</text>
<text x="557.30" y="249.70" font-size="4.2" text-anchor="end" fill="#3a3a3a" stroke="#3a3a3a" stroke-width="0.12" textLength="5.0" lengthAdjust="spacingAndGlyphs">0.6</text>
<text x="632.76" y="327.20" font-size="4.2" text-anchor="middle" fill="#3a3a3a" stroke="#3a3a3a" stroke-width="0.12" textLength="5.0" lengthAdjust="spacingAndGlyphs">0.6</text>
<text x="557.30" y="225.00" font-size="4.2" text-anchor="end" fill="#3a3a3a" stroke="#3a3a3a" stroke-width="0.12" textLength="5.0" lengthAdjust="spacingAndGlyphs">0.8</text>
<text x="657.48" y="327.20" font-size="4.2" text-anchor="middle" fill="#3a3a3a" stroke="#3a3a3a" stroke-width="0.12" textLength="5.0" lengthAdjust="spacingAndGlyphs">0.8</text>
<text x="557.30" y="200.30" font-size="4.2" text-anchor="end" fill="#3a3a3a" stroke="#3a3a3a" stroke-width="0.12" textLength="5.0" lengthAdjust="spacingAndGlyphs">1.0</text>
<text x="682.20" y="327.20" font-size="4.2" text-anchor="middle" fill="#3a3a3a" stroke="#3a3a3a" stroke-width="0.12" textLength="5.0" lengthAdjust="spacingAndGlyphs">1.0</text>
<text x="28.6" y="145.80" transform="rotate(0.05 28.6 145.80)" font-size="9.5" font-weight="bold" text-anchor="end" fill="#111" textLength="4.80" lengthAdjust="spacingAndGlyphs">0</text>
<text x="28.6" y="121.44" transform="rotate(0.05 28.6 121.44)" font-size="9.5" font-weight="bold" text-anchor="end" fill="#111" textLength="4.80" lengthAdjust="spacingAndGlyphs">5</text>
<text x="28.6" y="97.08" transform="rotate(0.05 28.6 97.08)" font-size="9.5" font-weight="bold" text-anchor="end" fill="#111" textLength="9.60" lengthAdjust="spacingAndGlyphs">10</text>
<text x="28.6" y="72.72" transform="rotate(0.05 28.6 72.72)" font-size="9.5" font-weight="bold" text-anchor="end" fill="#111" textLength="9.60" lengthAdjust="spacingAndGlyphs">15</text>
<text x="28.6" y="48.36" transform="rotate(0.05 28.6 48.36)" font-size="9.5" font-weight="bold" text-anchor="end" fill="#111" textLength="9.60" lengthAdjust="spacingAndGlyphs">20</text>
<text x="28.6" y="24.00" transform="rotate(0.05 28.6 24.00)" font-size="9.5" font-weight="bold" text-anchor="end" fill="#111" textLength="9.60" lengthAdjust="spacingAndGlyphs">25</text>
<text x="4.854" y="11.153" transform="rotate(0.05 4.854 11.153)" font-size="14.300" text-anchor="middle" fill="#111" stroke="#111" stroke-width="0.45" textLength="5.423" lengthAdjust="spacingAndGlyphs">a</text>
<text x="169.431" y="11.381" transform="rotate(0.05 169.431 11.381)" font-size="14.300" text-anchor="middle" fill="#111" stroke="#111" stroke-width="0.45" textLength="8.218" lengthAdjust="spacingAndGlyphs">b</text>
<text x="353.696" y="11.560" transform="rotate(0.05 353.696 11.560)" font-size="14.300" text-anchor="middle" fill="#111" stroke="#111" stroke-width="0.45" textLength="5.553" lengthAdjust="spacingAndGlyphs">c</text>
<text x="541.772" y="11.085" transform="rotate(0.05 541.772 11.085)" font-size="14.300" text-anchor="middle" fill="#111" stroke="#111" stroke-width="0.45" textLength="7.667" lengthAdjust="spacingAndGlyphs">d</text>
<text x="4.596" y="190.832" transform="rotate(0.05 4.596 190.832)" font-size="14.300" text-anchor="middle" fill="#111" stroke="#111" stroke-width="0.45" textLength="6.861" lengthAdjust="spacingAndGlyphs">e</text>
<text x="167.645" y="189.385" transform="rotate(0.05 167.645 189.385)" font-size="14.300" text-anchor="middle" fill="#111" stroke="#111" stroke-width="0.45" textLength="3.643" lengthAdjust="spacingAndGlyphs">f</text>
<text x="354.649" y="190.906" transform="rotate(0.05 354.649 190.906)" font-size="14.300" text-anchor="middle" fill="#111" stroke="#111" stroke-width="0.45" textLength="6.775" lengthAdjust="spacingAndGlyphs">g</text>
<text x="541.880" y="189.375" transform="rotate(0.05 541.880 189.375)" font-size="14.300" text-anchor="middle" fill="#111" stroke="#111" stroke-width="0.45" textLength="7.469" lengthAdjust="spacingAndGlyphs">h</text>
<text x="250.687" y="16.897" transform="rotate(0.05 250.687 16.897)" font-size="8.800" text-anchor="middle" fill="#222" stroke="#222" stroke-width="0.25" textLength="31.528" lengthAdjust="spacingAndGlyphs">Fibulin2</text>
<text x="435.871" y="16.781" transform="rotate(0.05 435.871 16.781)" font-size="8.800" text-anchor="middle" fill="#222" stroke="#222" stroke-width="0.25" textLength="15.448" lengthAdjust="spacingAndGlyphs">CRP</text>
<text x="620.752" y="17.243" transform="rotate(0.05 620.752 17.243)" font-size="8.800" text-anchor="middle" fill="#222" stroke="#222" stroke-width="0.25" textLength="14.850" lengthAdjust="spacingAndGlyphs">PCT</text>
<text x="80.008" y="193.225" transform="rotate(0.05 80.008 193.225)" font-size="8.800" text-anchor="middle" fill="#222" stroke="#222" stroke-width="0.25" textLength="17.986" lengthAdjust="spacingAndGlyphs">WBC</text>
<text x="249.769" y="193.620" transform="rotate(0.05 249.769 193.620)" font-size="8.800" text-anchor="middle" fill="#222" stroke="#222" stroke-width="0.25" textLength="24.081" lengthAdjust="spacingAndGlyphs">NEU%</text>
<text x="437.795" y="193.748" transform="rotate(0.05 437.795 193.748)" font-size="8.800" text-anchor="middle" fill="#222" stroke="#222" stroke-width="0.25" textLength="14.871" lengthAdjust="spacingAndGlyphs">IL-6</text>
<text x="623.368" y="192.978" transform="rotate(0.05 623.368 192.978)" font-size="8.800" text-anchor="middle" fill="#222" stroke="#222" stroke-width="0.25" textLength="31.907" lengthAdjust="spacingAndGlyphs">D-Dimer</text>
<text x="250.752" y="156.318" transform="rotate(0.05 250.752 156.318)" font-size="7.500" text-anchor="middle" fill="#222" stroke="#222" stroke-width="0.2" textLength="36.475" lengthAdjust="spacingAndGlyphs">1-Specificity</text>
<text transform="translate(176.160,81.862) rotate(-89.95)" x="0" y="0" font-size="6.600" text-anchor="middle" fill="#222" stroke="#222" stroke-width="0.15" textLength="31.332" lengthAdjust="spacingAndGlyphs">Sensitivity</text>
<text x="437.262" y="156.340" transform="rotate(0.05 437.262 156.340)" font-size="7.500" text-anchor="middle" fill="#222" stroke="#222" stroke-width="0.2" textLength="36.270" lengthAdjust="spacingAndGlyphs">1-Specificity</text>
<text transform="translate(362.368,81.702) rotate(-89.95)" x="0" y="0" font-size="6.600" text-anchor="middle" fill="#222" stroke="#222" stroke-width="0.15" textLength="30.858" lengthAdjust="spacingAndGlyphs">Sensitivity</text>
<text x="620.629" y="156.366" transform="rotate(0.05 620.629 156.366)" font-size="7.500" text-anchor="middle" fill="#222" stroke="#222" stroke-width="0.2" textLength="36.195" lengthAdjust="spacingAndGlyphs">1-Specificity</text>
<text transform="translate(548.644,81.809) rotate(-89.95)" x="0" y="0" font-size="6.600" text-anchor="middle" fill="#222" stroke="#222" stroke-width="0.15" textLength="30.718" lengthAdjust="spacingAndGlyphs">Sensitivity</text>
<text x="77.764" y="335.326" transform="rotate(0.05 77.764 335.326)" font-size="7.500" text-anchor="middle" fill="#222" stroke="#222" stroke-width="0.2" textLength="36.430" lengthAdjust="spacingAndGlyphs">1-Specificity</text>
<text transform="translate(5.379,260.136) rotate(-89.95)" x="0" y="0" font-size="6.600" text-anchor="middle" fill="#222" stroke="#222" stroke-width="0.15" textLength="31.100" lengthAdjust="spacingAndGlyphs">Sensitivity</text>
<text x="250.527" y="335.355" transform="rotate(0.05 250.527 335.355)" font-size="7.500" text-anchor="middle" fill="#222" stroke="#222" stroke-width="0.2" textLength="35.988" lengthAdjust="spacingAndGlyphs">1-Specificity</text>
<text transform="translate(175.843,260.279) rotate(-89.95)" x="0" y="0" font-size="6.600" text-anchor="middle" fill="#222" stroke="#222" stroke-width="0.15" textLength="31.428" lengthAdjust="spacingAndGlyphs">Sensitivity</text>
<text x="437.799" y="335.356" transform="rotate(0.05 437.799 335.356)" font-size="7.500" text-anchor="middle" fill="#222" stroke="#222" stroke-width="0.2" textLength="36.347" lengthAdjust="spacingAndGlyphs">1-Specificity</text>
<text transform="translate(365.303,260.203) rotate(-89.95)" x="0" y="0" font-size="6.600" text-anchor="middle" fill="#222" stroke="#222" stroke-width="0.15" textLength="31.323" lengthAdjust="spacingAndGlyphs">Sensitivity</text>
<text x="623.434" y="335.507" transform="rotate(0.05 623.434 335.507)" font-size="7.500" text-anchor="middle" fill="#222" stroke="#222" stroke-width="0.2" textLength="36.239" lengthAdjust="spacingAndGlyphs">1-Specificity</text>
<text transform="translate(548.713,260.356) rotate(-89.95)" x="0" y="0" font-size="6.600" text-anchor="middle" fill="#222" stroke="#222" stroke-width="0.15" textLength="31.127" lengthAdjust="spacingAndGlyphs">Sensitivity</text>
<text x="62.865" y="156.165" transform="rotate(0.05 62.865 156.165)" font-size="7.700" text-anchor="middle" fill="#222" stroke="#222" stroke-width="0.25" textLength="26.036" lengthAdjust="spacingAndGlyphs">Survival</text>
<text x="106.860" y="156.131" transform="rotate(0.05 106.860 156.131)" font-size="7.500" text-anchor="middle" fill="#222" stroke="#222" stroke-width="0.25" textLength="41.054" lengthAdjust="spacingAndGlyphs">Non-survival</text>
<text x="84.638" y="31.463" transform="rotate(0.05 84.638 31.463)" font-size="6.400" text-anchor="middle" fill="#444" stroke="#444" stroke-width="0.08" textLength="21.587" lengthAdjust="spacingAndGlyphs">P&lt;0.05</text>
<text transform="translate(13.877,81.990) rotate(-89.95)" x="0" y="0" font-size="6.700" text-anchor="middle" fill="#111" font-weight="bold" stroke="#111" stroke-width="0.1" textLength="99.205" lengthAdjust="spacingAndGlyphs">Fibulin2  concentration ( ng/ml)</text>
</g>
</svg>
</body></html>
